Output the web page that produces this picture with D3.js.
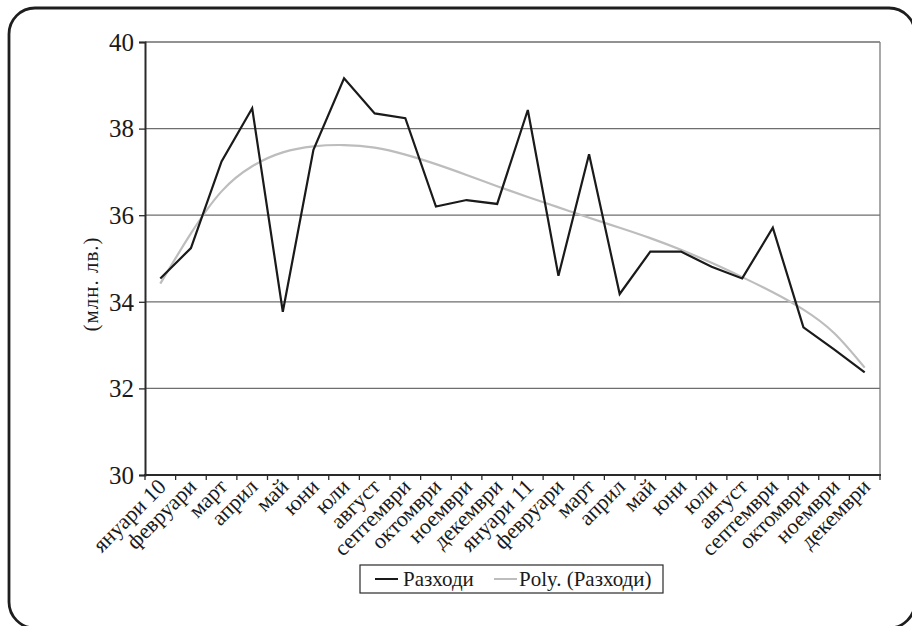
<!DOCTYPE html>
<html>
<head>
<meta charset="utf-8">
<script src="https://cdn.jsdelivr.net/npm/d3@7"></script>
<style>
  html, body { margin: 0; padding: 0; background: #fff; }
  svg { display: block; }
  svg text { font-family: "Liberation Serif", "Times New Roman", serif !important; fill: #1a1a1a; }
</style>
</head>
<body>
<svg id="chart" width="912" height="626"></svg>
<script>
// Monthly expenditure, Jan 2010 – Dec 2011 (million BGN)
const months = ["януари 10", "февруари", "март", "април", "май", "юни", "юли", "август",
  "септември", "октомври", "ноември", "декември", "януари 11", "февруари", "март", "април",
  "май", "юни", "юли", "август", "септември", "октомври", "ноември", "декември"];

const expenses = [34.54, 35.24, 37.24, 38.47, 33.77, 37.51, 39.16, 38.35,
  38.24, 36.20, 36.35, 36.26, 38.43, 34.60, 37.41, 34.18,
  35.16, 35.16, 34.81, 34.54, 35.71, 33.41, 32.90, 32.37];

// Polynomial trend line values at each month
const trend = [34.42, 35.58, 36.55, 37.13, 37.45, 37.59, 37.62, 37.56,
  37.40, 37.18, 36.93, 36.67, 36.42, 36.18, 35.94, 35.71,
  35.47, 35.20, 34.90, 34.57, 34.22, 33.82, 33.28, 32.48];

const yTicks = [30, 32, 34, 36, 38, 40];
const legendLabels = ["Разходи", "Poly. (Разходи)"];
const yTitle = "(млн. лв.)";

const svg = d3.select("#chart");

// outer rounded frame
svg.append("rect")
  .attr("x", 9).attr("y", 8)
  .attr("width", 906).attr("height", 620)
  .attr("rx", 26).attr("ry", 26)
  .attr("fill", "none").attr("stroke", "#1e1e1e").attr("stroke-width", 2.8);

const plot = { left: 145, right: 880, top: 42, bottom: 475 };

const x = d3.scaleBand()
  .domain(d3.range(months.length))
  .range([plot.left, plot.right])
  .paddingInner(0).paddingOuter(0);

const y = d3.scaleLinear().domain([30, 40]).range([plot.bottom, plot.top]);

const cx = i => x(i) + x.bandwidth() / 2;

// horizontal gridlines
svg.append("g")
  .selectAll("line")
  .data(yTicks.filter(t => t > 30))
  .join("line")
  .attr("x1", plot.left).attr("x2", plot.right)
  .attr("y1", d => y(d)).attr("y2", d => y(d))
  .attr("stroke", "#6e6e6e").attr("stroke-width", 1.3);

// right border of plot area
svg.append("line")
  .attr("x1", plot.right).attr("x2", plot.right)
  .attr("y1", plot.top).attr("y2", plot.bottom)
  .attr("stroke", "#7a7a7a").attr("stroke-width", 1.3);

// y axis
const yAxis = svg.append("g")
  .attr("transform", `translate(${plot.left},0)`)
  .call(d3.axisLeft(y).tickValues(yTicks).tickSize(6).tickPadding(5).tickFormat(d3.format("d")));
yAxis.attr("font-family", null);
yAxis.select(".domain").attr("stroke", "#2a2a2a").attr("stroke-width", 2);
yAxis.selectAll(".tick line").attr("stroke", "#2a2a2a").attr("stroke-width", 1.3);
yAxis.selectAll(".tick text")
  .style("font-size", "25px")
  .attr("dy", "0.33em")
  .attr("fill", "#1a1a1a");

// x axis: ticks on band boundaries, labels at band centres
const xAxisG = svg.append("g").attr("transform", `translate(0,${plot.bottom})`);
xAxisG.append("line")
  .attr("x1", plot.left - 1).attr("x2", plot.right + 1)
  .attr("stroke", "#2a2a2a").attr("stroke-width", 2.2);
xAxisG.selectAll("line.tk")
  .data(d3.range(months.length + 1))
  .join("line")
  .attr("class", "tk")
  .attr("x1", i => i < months.length ? x(i) : plot.right)
  .attr("x2", i => i < months.length ? x(i) : plot.right)
  .attr("y1", 0).attr("y2", 5)
  .attr("stroke", "#2a2a2a").attr("stroke-width", 1.3);
xAxisG.selectAll("text")
  .data(months)
  .join("text")
  .attr("text-anchor", "end")
  .style("font-size", "22px")
  .attr("transform", (d, i) => `translate(${cx(i) - 4},${2}) rotate(-45)`)
  .attr("dy", "0.7em")
  .text(d => d);

// y axis title
svg.append("text")
  .attr("transform", `translate(98,284) rotate(-90)`)
  .attr("text-anchor", "middle")
  .style("font-size", "21px")
  .attr("letter-spacing", 1)
  .text(yTitle);

// trend curve
svg.append("path")
  .datum(trend)
  .attr("fill", "none")
  .attr("stroke", "#bdbdbd")
  .attr("stroke-width", 2.2)
  .attr("d", d3.line().x((d, i) => cx(i)).y(d => y(d)).curve(d3.curveNatural));

// expenditure series
svg.append("path")
  .datum(expenses)
  .attr("fill", "none")
  .attr("stroke", "#1a1a1a")
  .attr("stroke-width", 2.2)
  .attr("stroke-linejoin", "miter")
  .attr("d", d3.line().x((d, i) => cx(i)).y(d => y(d)));

// legend
const lg = svg.append("g").attr("transform", "translate(360,565)");
lg.append("rect")
  .attr("width", 303).attr("height", 28)
  .attr("fill", "#fff").attr("stroke", "#2a2a2a").attr("stroke-width", 1.2);
const items = [
  { label: legendLabels[0], color: "#1a1a1a", x0: 15, tx: 43 },
  { label: legendLabels[1], color: "#bdbdbd", x0: 134, tx: 159 }
];
items.forEach(it => {
  lg.append("line")
    .attr("x1", it.x0).attr("x2", it.x0 + 23)
    .attr("y1", 14).attr("y2", 14)
    .attr("stroke", it.color).attr("stroke-width", 2);
  lg.append("text")
    .attr("x", it.tx).attr("y", 21)
    .style("font-size", "21px")
    .text(it.label);
});
</script>
</body>
</html>
